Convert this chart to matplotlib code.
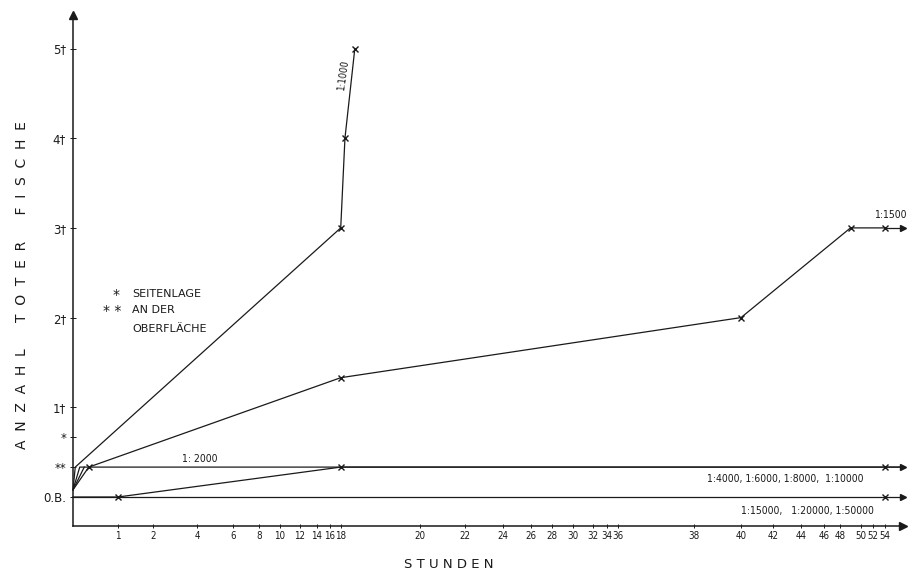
import numpy as np
import matplotlib.pyplot as plt

# hand-drawn, non-uniform hour axis: tick hours and where they sit along the axis (px)
hour_ticks = [1, 2, 4, 6, 8, 10, 12, 14, 16, 18, 20, 22, 24, 26, 28, 30, 32, 34, 36,
              38, 40, 42, 44, 46, 48, 50, 52, 54]
tick_px = [118, 153, 197, 233, 259, 280, 300, 317, 330, 341, 420, 465, 503, 531, 552,
           573, 593, 607, 618, 694, 741, 773, 801, 824, 840, 861, 873, 885]
knot_h = [0] + hour_ticks + [56]
knot_px = [73] + tick_px + [903]

# y levels: 0.B. = ohne Befund, ** = an der Oberfläche, * = Seitenlage, then dead fish
y_ticks = [0, 1/3, 2/3, 1, 2, 3, 4, 5]
y_labels = ['0.B.', '**', '*', '1†', '2†', '3†', '4†', '5†']

# series (hours, level)
t1000 = [0, 0.05, 17.95, 18.1, 18.35]
v1000 = [0.08, 1/3, 3, 4, 5]
t1500 = [0, 0.35, 17.95, 40, 49, 54, 56]
v1500 = [0.08, 1/3, 1.33, 2, 3, 3, 3]
t2000 = [0, 0.15, 56]
v2000 = [0.08, 1/3, 1/3]
t_fan = [0, 0.25]
v_fan = [0.08, 1/3]
t4000 = [0, 1, 17.95, 54, 56]
v4000 = [0, 0, 1/3, 1/3, 1/3]
t15000 = [0, 54, 56]
v15000 = [0, 0, 0]


def fwd(h):
    return np.interp(h, knot_h, knot_px)


def inv(p):
    return np.interp(p, knot_px, knot_h)


W, H = 910, 578
fig = plt.figure(figsize=(W/100, H/100), dpi=100)
ax = fig.add_axes([73/W, (H-526)/H, (903-73)/W, (526-15)/H])
ax.set_xscale('function', functions=(fwd, inv))
ax.set_xlim(0, 56)
ax.set_ylim((497-526)/89.7, (497-15)/89.7)

col = '#1a1a1a'
lw = 0.9
for sp in ['top', 'right']:
    ax.spines[sp].set_visible(False)
for sp in ['left', 'bottom']:
    ax.spines[sp].set_linewidth(1.1)
    ax.spines[sp].set_color(col)

# axis arrows
ax.plot(0, 1, '^', color=col, ms=6, transform=ax.transAxes, clip_on=False)
ax.plot(1, 0, '>', color=col, ms=6, transform=ax.transAxes, clip_on=False)

ax.set_xticks(hour_ticks)
ax.set_xticklabels([str(h) for h in hour_ticks])
ax.set_yticks(y_ticks)
ax.set_yticklabels(y_labels)
ax.tick_params(axis='x', direction='inout', length=3, width=0.7, labelsize=7, pad=2, colors=col)
ax.tick_params(axis='y', direction='inout', length=4, width=0.7, labelsize=8.5, pad=3, colors=col)
for lab in ax.get_xticklabels():
    lab.set_fontstretch('condensed')

# lines
ax.plot(t1000, v1000, color=col, lw=lw, clip_on=False)
ax.plot(t1000[2:], v1000[2:], 'x', color=col, ms=5, mew=1)
ax.plot(t1500[:-1], v1500[:-1], color=col, lw=lw, clip_on=False)
ax.plot(t1500[-2:], v1500[-2:], color=col, lw=lw, clip_on=False)
ax.plot(t1500[1:-1], v1500[1:-1], 'x', color=col, ms=5, mew=1)
ax.plot(t1500[-1], v1500[-1], '>', color=col, ms=4, clip_on=False)
ax.plot(t2000, v2000, color=col, lw=lw, clip_on=False)
ax.plot(t_fan, v_fan, color=col, lw=lw)
ax.plot(t4000, v4000, color=col, lw=lw, clip_on=False)
ax.plot(t4000[1:4], v4000[1:4], 'x', color=col, ms=5, mew=1)
ax.plot(t4000[-1], v4000[-1], '>', color=col, ms=4, clip_on=False)
ax.plot(t15000, v15000, color=col, lw=lw, clip_on=False)
ax.plot(t15000[1], v15000[1], 'x', color=col, ms=5, mew=1)
ax.plot(t15000[-1], v15000[-1], '>', color=col, ms=4, clip_on=False)


def ptext(px, py, s, **kw):
    fig.text(px/W, 1 - py/H, s, color=col, **kw)


ptext(343, 75, '1:1000', rotation=82, ha='center', va='center', fontsize=7, fontstretch='condensed')
ptext(890, 215, '1:1500', ha='center', va='center', fontsize=7.5, fontstretch='condensed')
ptext(200, 459, '1: 2000', ha='center', va='center', fontsize=7.5, fontstretch='condensed')
ptext(785, 479, '1:4000, 1:6000, 1:8000,  1:10000', ha='center', va='center', fontsize=7.5,
      fontstretch='condensed')
ptext(807, 511, '1:15000,   1:20000, 1:50000', ha='center', va='center', fontsize=7.5,
      fontstretch='condensed')

# legend for the star symbols
ptext(116, 295, '*', ha='center', va='center', fontsize=10)
ptext(132, 294, 'SEITENLAGE', ha='left', va='center', fontsize=8)
ptext(112, 311, '* *', ha='center', va='center', fontsize=10)
ptext(132, 310, 'AN DER', ha='left', va='center', fontsize=8)
ptext(132, 329, 'OBERFLÄCHE', ha='left', va='center', fontsize=8)

# axis titles with wide letter spacing
ylab = '      '.join('  '.join(w) for w in ['ANZAHL', 'TOTER', 'FISCHE'])
ptext(22, 285, ylab, rotation=90, ha='center', va='center', fontsize=10)
ptext(449, 564, 'S T U N D E N', ha='center', va='center', fontsize=9.5)

fig.savefig('out.png', dpi=100, facecolor='white')
